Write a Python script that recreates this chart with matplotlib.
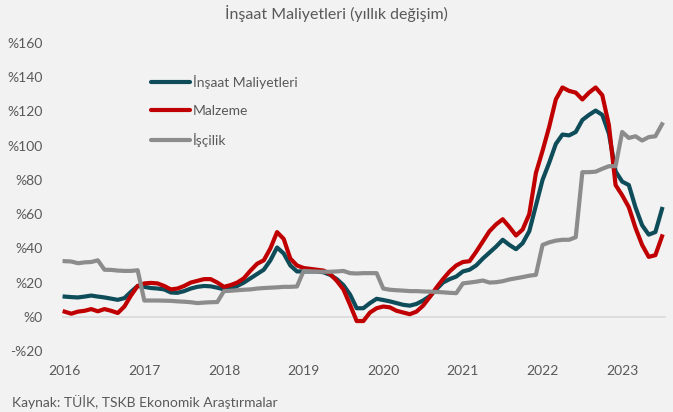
"""
İnşaat maliyet endeksi - yıllık değişim grafiği
"""

import matplotlib
matplotlib.use('Agg')
import matplotlib.pyplot as plt
from matplotlib.ticker import FuncFormatter

# ay bazında veri: Ocak 2016 - Temmuz 2023
years = ['2016', '2017', '2018', '2019', '2020', '2021', '2022', '2023']

insaat = [
    11.8, 11.5, 11.3, 11.8, 12.4, 11.8, 11.3, 10.6, 9.9, 10.9, 14.6, 18.0,
    17.5, 16.8, 16.5, 16.0, 14.2, 14.0, 15.0, 16.5, 17.5, 18.0, 17.8, 17.0,
    16.0, 16.5, 18.0, 20.0, 22.5, 25.0, 27.5, 33.0, 40.5, 37.0, 30.0, 26.5,
    26.5, 26.5, 26.5, 26.0, 24.5, 22.0, 18.5, 13.0, 5.0, 5.0, 8.0, 10.5,
    9.8, 9.0, 8.0, 7.0, 6.5, 7.5, 9.5, 12.0, 16.0, 20.0, 22.0, 23.5,
    26.5, 27.5, 30.0, 34.0, 37.5, 41.0, 45.0, 42.0, 39.5, 43.0, 50.0, 65.0,
    80.0, 90.0, 101.0, 106.5, 106.0, 108.0, 115.0, 118.0, 120.5, 118.0, 107.0, 85.0,
    79.0, 77.0, 64.0, 53.5, 48.0, 49.5, 63.0,
]

malzeme = [
    3.0, 1.8, 3.0, 3.5, 4.5, 3.2, 4.5, 3.5, 2.2, 6.0, 12.5, 18.0,
    19.5, 19.8, 19.5, 18.0, 16.0, 16.5, 18.0, 20.0, 21.0, 22.0, 22.0, 20.0,
    17.5, 18.5, 20.0, 22.5, 27.0, 31.0, 33.0, 40.0, 49.5, 45.5, 34.0, 30.0,
    28.5, 28.0, 27.5, 27.0, 25.0, 21.0, 16.0, 7.0, -2.5, -2.5, 2.5, 5.0,
    6.0, 5.5, 3.5, 2.5, 1.5, 3.0, 6.5, 11.5, 17.0, 22.0, 26.5, 30.0,
    32.0, 32.5, 38.0, 44.0, 50.0, 54.0, 57.0, 52.5, 47.5, 51.0, 60.0, 84.0,
    97.0, 111.0, 127.0, 134.0, 132.0, 131.0, 127.0, 131.0, 134.0, 129.5, 112.0, 77.0,
    71.0, 64.0, 52.0, 42.0, 35.0, 36.0, 47.0,
]

iscilik = [
    32.5, 32.3, 31.3, 31.8, 32.0, 33.0, 27.5, 27.4, 27.0, 26.8, 26.8, 27.2,
    9.5, 9.5, 9.5, 9.4, 9.3, 9.0, 8.8, 8.5, 8.0, 8.3, 8.5, 8.6,
    15.0, 15.2, 15.5, 15.8, 16.0, 16.5, 16.8, 17.0, 17.2, 17.5, 17.5, 17.7,
    26.8, 26.6, 26.4, 26.3, 26.3, 26.5, 26.8, 25.5, 25.3, 25.5, 25.5, 25.5,
    16.5, 15.8, 15.5, 15.3, 15.0, 15.0, 14.8, 14.7, 14.5, 14.3, 14.0, 13.8,
    19.5, 20.0, 20.5, 21.2, 20.0, 20.2, 20.8, 21.8, 22.5, 23.2, 24.0, 24.5,
    42.0, 43.5, 44.5, 45.0, 45.0, 46.5, 84.5, 84.5, 84.8, 86.5, 88.0, 88.0,
    108.0, 104.5, 105.5, 103.0, 105.0, 105.5, 112.5,
]

series_names = ['İnşaat Maliyetleri', 'Malzeme', 'İşçilik']
colors = ['#0E4C59', '#C00000', '#8C8C8C']

BG = '#F2F2F2'
TEXT = '#595959'

plt.rcParams['font.family'] = ['Lato', 'DejaVu Sans']


def pct_label(v, _pos):
    # Excel formatı: %20, -%20
    v = int(round(v))
    return f'-%{abs(v)}' if v < 0 else f'%{v}'


def main():
    fig = plt.figure(figsize=(6.73, 4.12), dpi=100, facecolor=BG)
    ax = fig.add_axes([62 / 673, 1 - 351 / 412, 604 / 673, 308 / 412])
    ax.set_facecolor(BG)

    x = list(range(len(insaat)))
    for vals, name, c in zip([insaat, malzeme, iscilik], series_names, colors):
        ax.plot(x, vals, color=c, lw=3.0, label=name, solid_joinstyle='round')

    ax.set_ylim(-20, 160)
    ax.set_yticks(range(-20, 161, 20))
    ax.yaxis.set_major_formatter(FuncFormatter(pct_label))
    ax.set_xlim(-0.4, len(insaat) - 0.4)
    ax.set_xticks([12 * i for i in range(len(years))])
    ax.set_xticklabels(years)

    ax.axhline(0, color='#D9D9D9', lw=1.2, zorder=0)
    for s in ax.spines.values():
        s.set_visible(False)
    ax.tick_params(length=0, colors=TEXT, labelsize=10)
    ax.tick_params(axis='x', pad=10)
    ax.tick_params(axis='y', pad=14)

    leg = ax.legend(loc='upper left', bbox_to_anchor=(151 / 673, 1 - 75 / 412),
                    bbox_transform=fig.transFigure, frameon=False, fontsize=10,
                    handlelength=2.8, handletextpad=0.2, labelspacing=1.15,
                    borderpad=0, borderaxespad=0)
    for t in leg.get_texts():
        t.set_color(TEXT)
    for h in leg.get_lines():
        h.set_linewidth(3.0)
        h.set_solid_capstyle('round')

    fig.text(0.5, 1 - 14 / 412, 'İnşaat Maliyetleri (yıllık değişim)',
             ha='center', va='center', fontsize=11.5, color=TEXT)
    fig.text(12 / 673, 1 - 402 / 412, 'Kaynak: TÜİK, TSKB Ekonomik Araştırmalar',
             ha='left', va='center', fontsize=10, color=TEXT)

    fig.savefig('out.png', dpi=100, facecolor=BG)
    plt.close(fig)


if __name__ == '__main__':
    main()
